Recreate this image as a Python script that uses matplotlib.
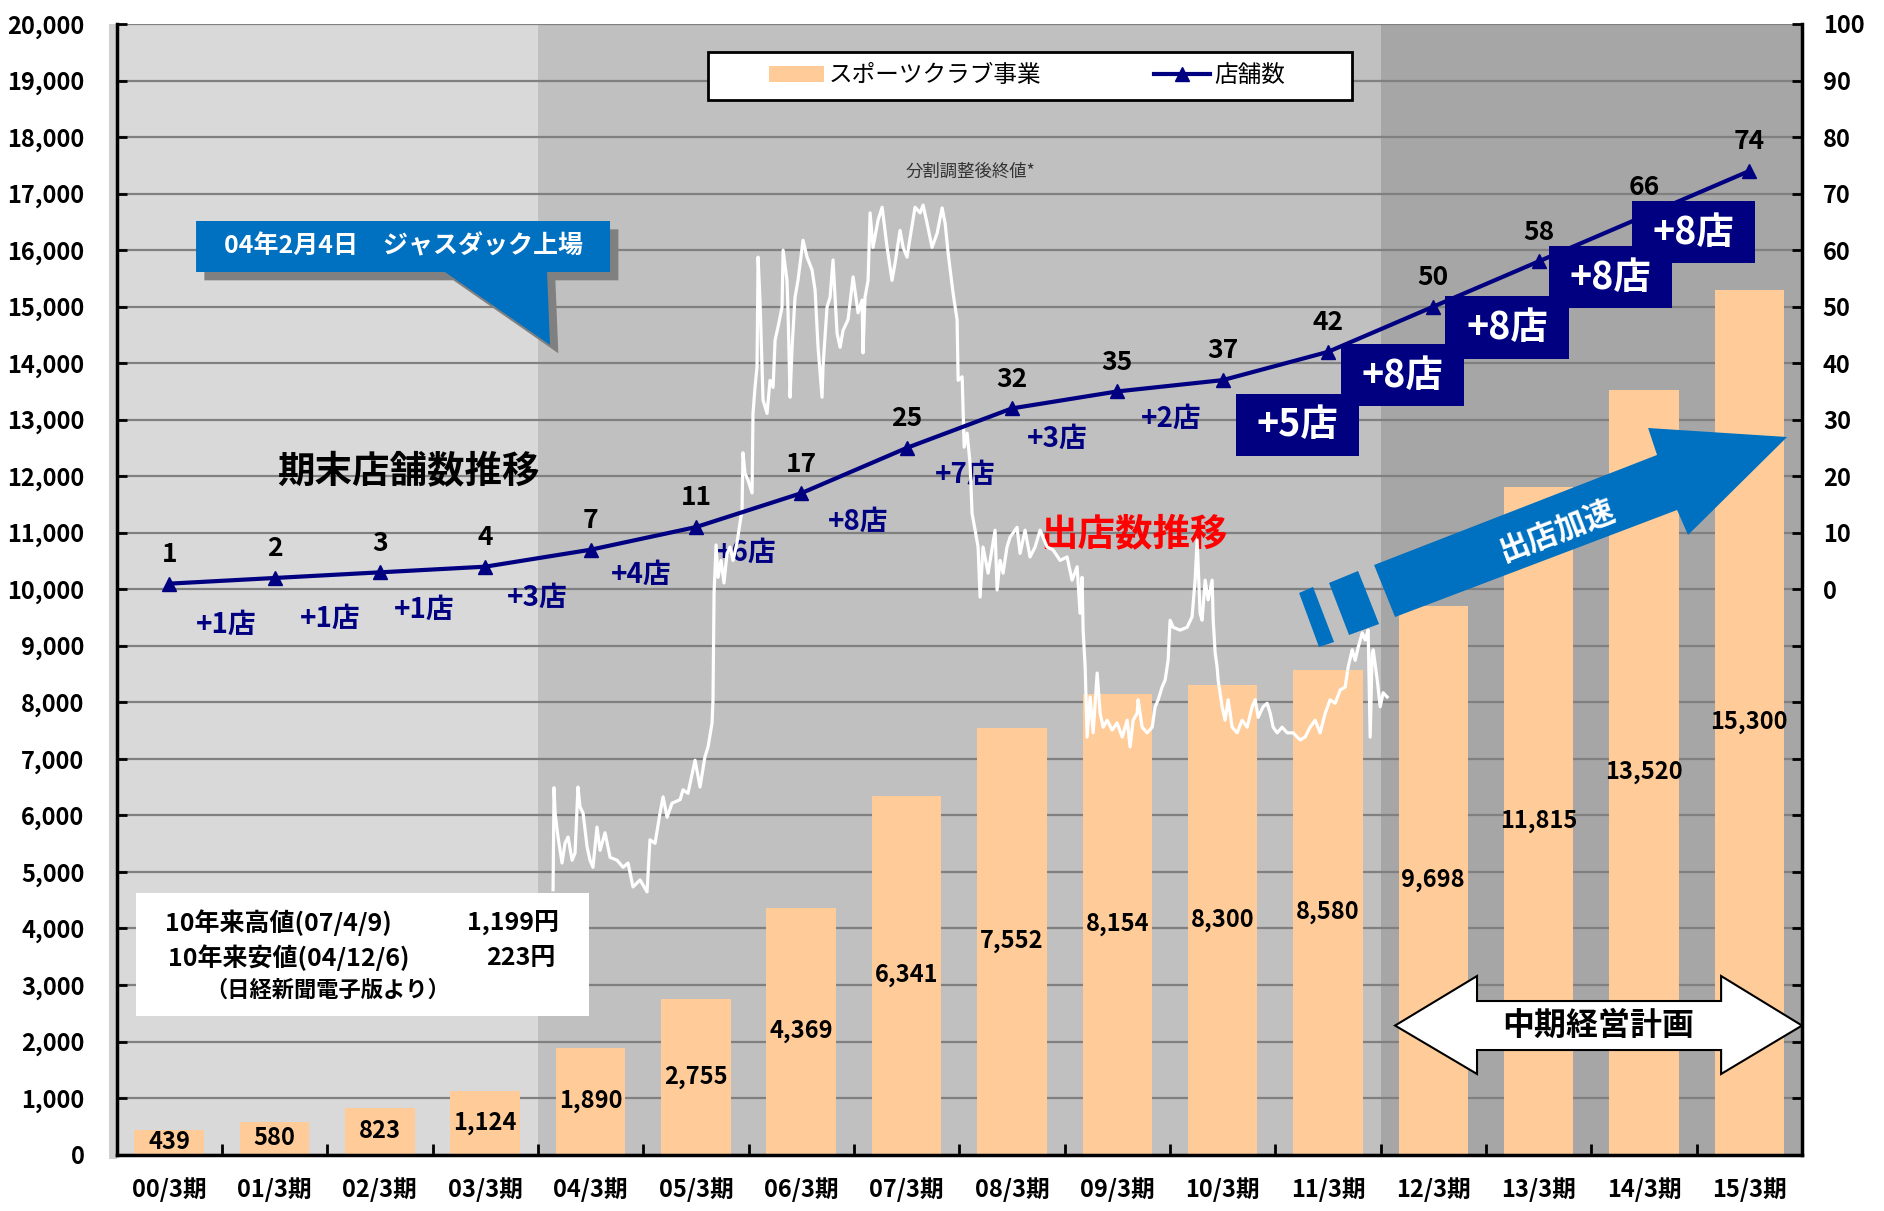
import numpy as np
import matplotlib.pyplot as plt
import matplotlib.transforms as mtransforms
from matplotlib.patches import Polygon, Rectangle

plt.rcParams['font.family'] = ['Noto Sans CJK JP', 'DejaVu Sans']

periods = ['00/3期', '01/3期', '02/3期', '03/3期', '04/3期', '05/3期', '06/3期', '07/3期',
           '08/3期', '09/3期', '10/3期', '11/3期', '12/3期', '13/3期', '14/3期', '15/3期']
sales = [439, 580, 823, 1124, 1890, 2755, 4369, 6341, 7552, 8154, 8300, 8580, 9698, 11815, 13520, 15300]
stores = [1, 2, 3, 4, 7, 11, 17, 25, 32, 35, 37, 42, 50, 58, 66, 74]

# split adjusted closing price (yen)
price_date = [
    2004.113, 2004.121, 2004.130, 2004.155, 2004.189, 2004.214, 2004.240, 2004.274, 2004.299, 2004.324,
    2004.341, 2004.367, 2004.401, 2004.426, 2004.451, 2004.485, 2004.511, 2004.553, 2004.596, 2004.655,
    2004.706, 2004.748, 2004.790, 2004.850, 2004.909, 2004.934, 2004.977, 2005.019, 2005.045, 2005.079,
    2005.121, 2005.189, 2005.214, 2005.256, 2005.316, 2005.358, 2005.400, 2005.426, 2005.460, 2005.468,
    2005.477,
    2005.494, 2005.511, 2005.536, 2005.561, 2005.587, 2005.612, 2005.638, 2005.671, 2005.697, 2005.714,
    2005.722, 2005.739, 2005.765, 2005.799, 2005.807, 2005.824, 2005.841, 2005.850, 2005.867, 2005.884,
    2005.892, 2005.926, 2005.951, 2005.977, 2005.994, 2006.019, 2006.053, 2006.062, 2006.095, 2006.104,
    2006.121, 2006.138, 2006.163, 2006.188, 2006.231, 2006.265, 2006.307, 2006.333, 2006.358, 2006.392,
    2006.400, 2006.434, 2006.460, 2006.485, 2006.519, 2006.545, 2006.570, 2006.612, 2006.655, 2006.697,
    2006.731, 2006.739, 2006.756, 2006.782, 2006.799, 2006.824, 2006.867, 2006.901, 2006.943, 2006.985,
    2007.011, 2007.053, 2007.079, 2007.112, 2007.138, 2007.180, 2007.223, 2007.248, 2007.282, 2007.324,
    2007.367, 2007.409, 2007.435, 2007.460, 2007.502, 2007.536, 2007.545, 2007.579, 2007.587, 2007.596,
    2007.621, 2007.646, 2007.663, 2007.689, 2007.714, 2007.731, 2007.756, 2007.799, 2007.858, 2007.875,
    2007.900, 2007.926, 2007.959, 2007.985, 2008.044, 2008.070, 2008.112, 2008.154, 2008.197, 2008.239,
    2008.299, 2008.349, 2008.409, 2008.468, 2008.510, 2008.553, 2008.578, 2008.595, 2008.604, 2008.621,
    2008.638, 2008.663, 2008.689, 2008.723, 2008.748, 2008.774, 2008.808, 2008.850, 2008.892, 2008.935,
    2008.977, 2009.002, 2009.028, 2009.062, 2009.070, 2009.104, 2009.146, 2009.189, 2009.214, 2009.240,
    2009.273, 2009.299, 2009.324, 2009.341, 2009.367, 2009.426, 2009.485, 2009.527, 2009.553, 2009.570,
    2009.578, 2009.595, 2009.612, 2009.638, 2009.663, 2009.697, 2009.706, 2009.723, 2009.739, 2009.748,
    2009.782, 2009.807, 2009.833, 2009.867, 2009.909, 2009.951, 2009.994, 2010.036, 2010.062, 2010.087,
    2010.129, 2010.163, 2010.189, 2010.214, 2010.248, 2010.290, 2010.333, 2010.383, 2010.443, 2010.485,
    2010.527, 2010.570, 2010.612, 2010.655, 2010.697, 2010.740, 2010.782, 2010.824, 2010.850, 2010.884,
    2010.909, 2010.935, 2010.969, 2010.994, 2011.019, 2011.036, 2011.053, 2011.062, 2011.096, 2011.121,
    2011.146, 2011.180,
]
price_yen = [
    226, 371, 335, 301, 264, 292, 301, 268, 278, 372,
    344, 335, 287, 268, 258, 315, 282, 307, 272, 268,
    258, 264, 230, 240, 223, 297, 292, 335, 358, 329,
    349, 354, 368, 363, 410, 372, 415, 429, 463, 496,
    648,
    716, 670, 694, 662, 704, 713, 694, 719, 747, 766,
    847, 818, 808, 790, 903, 940, 969, 1125, 1060, 969,
    922, 903, 950, 940, 1007, 1026, 1054, 1135, 1092, 1046,
    926, 997, 1068, 1092, 1149, 1125, 1107, 1078, 997, 926,
    969, 1054, 1068, 1121, 1017, 997, 1021, 1036, 1097, 1046,
    1064, 989, 1068, 1092, 1188, 1139, 1178, 1196, 1139, 1092,
    1117, 1163, 1139, 1125, 1153, 1196, 1188, 1199, 1173, 1139,
    1159, 1195, 1173, 1131, 1074, 1036, 950, 955, 908, 855,
    875, 832, 761, 737, 713, 642, 713, 676, 737, 652,
    694, 676, 713, 727, 741, 704, 737, 699, 713, 737,
    713, 709, 694, 699, 666, 685, 619, 670, 595, 543,
    443, 500, 449, 534, 477, 457, 467, 453, 463, 443,
    467, 429, 467, 477, 496, 457, 449, 457, 486, 496,
    514, 524, 552, 609, 599, 595, 599, 614, 666, 723,
    690, 619, 609, 666, 638, 666, 609, 562, 543, 524,
    486, 467, 496, 457, 449, 467, 457, 486, 496, 471,
    486, 491, 477, 457, 449, 457, 449, 449, 439, 443,
    457, 467, 449, 477, 496, 491, 510, 514, 543, 567,
    552, 571, 591, 581, 595, 443, 562, 567, 524, 486,
    506, 500,
]

# where the "+N店" notes sit (category, store axis)
add_label_pos = [(0.54, -6.4), (1.53, -5.3), (2.42, -3.6), (3.49, -1.5), (4.48, 2.5),
                 (5.48, 6.4), (6.54, 11.9), (7.56, 20.2), (8.43, 26.5), (9.51, 30.1)]
add_box_pos = [(10.71, 29.1), (11.71, 37.9), (12.70, 46.3), (13.68, 55.2), (14.47, 63.2)]

NAVY = '#000080'
BLUE = '#0070c0'

fig = plt.figure(figsize=(18.84, 12.11), dpi=100)
ax = fig.add_axes([0.06184, 0.04657, 0.89464, 0.93362])
x = np.arange(len(periods))
ax.set_xlim(-0.5, 15.5)
ax.set_ylim(0, 20000)

# background bands
ax.axvspan(-0.5, 3.5, color='#d9d9d9', lw=0, zorder=0.1)
ax.axvspan(3.5, 11.5, color='#c0c0c0', lw=0, zorder=0.1)
ax.axvspan(11.5, 15.5, color='#a6a6a6', lw=0, zorder=0.1)
ax.add_patch(Rectangle((-0.0045, -0.004), 0.0045, 1.004, transform=ax.transAxes,
                       color='#d0d0d0', lw=0, clip_on=False, zorder=0))
ax.set_axisbelow(True)
ax.yaxis.grid(True, color='#808080', lw=1.6)

bars = ax.bar(x, sales, width=0.66, color='#ffcc99', zorder=2, label='スポーツクラブ事業')
for xi, v in zip(x, sales):
    ax.text(xi, v / 2, f'{v:,}', ha='center', va='center', fontsize=17, fontweight='bold', zorder=3)

ax.set_yticks(range(0, 20001, 1000))
ax.set_yticklabels([f'{v:,}' for v in range(0, 20001, 1000)], fontsize=17, fontweight='bold')
ax.tick_params(axis='y', direction='in', length=7, width=2, pad=23)
ax.set_xticks(x)
ax.set_xticklabels(periods, fontsize=17, fontweight='bold')
ax.tick_params(axis='x', which='major', length=0, pad=16)
ax.set_xticks(np.arange(-0.5, 16, 1), minor=True)
ax.tick_params(axis='x', which='minor', direction='in', length=8, width=2)
for s in ['top', 'right']:
    ax.spines[s].set_visible(False)
for s in ['left', 'bottom']:
    ax.spines[s].set_linewidth(2.5)

# texts that sit under the price line
ax.text(2.27, 12075, '期末店舗数推移', ha='center', va='center', fontsize=27, fontweight='bold', zorder=4)
ax.text(9.16, 10961, '出店数推移', ha='center', va='center', fontsize=27, fontweight='bold',
        color='red', zorder=4)
ax.text(7.61, 17382, '分割調整後終値*', ha='center', va='center', fontsize=12.5, color='#333333', zorder=4)

ax.add_patch(Rectangle((-0.315, 2452), 4.301, 2176, facecolor='white', lw=0, zorder=4))
ax.text(-0.04, 4097, '10年来高値(07/4/9)', ha='left', va='center', fontsize=18, fontweight='bold', zorder=5)
ax.text(3.70, 4097, '1,199円', ha='right', va='center', fontsize=18, fontweight='bold', zorder=5)
ax.text(-0.01, 3478, '10年来安値(04/12/6)', ha='left', va='center', fontsize=18, fontweight='bold', zorder=5)
ax.text(3.67, 3478, '223円', ha='right', va='center', fontsize=18, fontweight='bold', zorder=5)
ax.text(1.50, 2912, '（日経新聞電子版より）', ha='center', va='center', fontsize=16, fontweight='bold', zorder=5)

# stock price on its own hidden axes
ax3 = fig.add_axes(ax.get_position().bounds, frameon=False)
ax3.set_axis_off()
ax3.plot(price_date, price_yen, color='white', lw=2.3)
ax3.set_xlim(2000.414, 2014.695)
ax3.set_ylim(-150.4, 1456.4)

# store count on the right axis
ax2 = ax.twinx()
ax2.set_ylim(-100, 100)
line, = ax2.plot(x, stores, color=NAVY, lw=3, marker='^', ms=10, zorder=3, label='店舗数')
for xi, s in zip(x, stores):
    ax2.annotate(str(s), (xi, s), xytext=(0, 21), textcoords='offset points', ha='center',
                 va='center', fontsize=19, fontweight='bold')
ax2.set_yticks(range(-100, 101, 10))
ax2.set_yticklabels([str(v) if v >= 0 else '' for v in range(-100, 101, 10)],
                    fontsize=17, fontweight='bold')
ax2.tick_params(axis='y', direction='in', length=7, width=2, pad=15)
for s in ['top', 'left', 'bottom']:
    ax2.spines[s].set_visible(False)
ax2.spines['right'].set_linewidth(2.5)

adds = np.diff(stores)
for (cx, cy), n in zip(add_label_pos, adds[:len(add_label_pos)]):
    ax.text(cx, cy, f'+{n}店', transform=ax2.transData, ha='center', va='center', fontsize=20,
            fontweight='bold', color=NAVY, zorder=4)
for (cx, cy), n in zip(add_box_pos, adds[len(add_label_pos):]):
    ax2.add_patch(Rectangle((cx - 0.585, cy - 5.5), 1.17, 11, facecolor=NAVY, lw=0, zorder=5))
    ax2.text(cx, cy, f'+{n}店', ha='center', va='center', fontsize=27, fontweight='bold',
             color='white', zorder=6)

# listing callout
callout = [(0.255, 16515), (4.185, 16515), (4.185, 15613), (3.587, 15613), (3.615, 14322),
           (2.618, 15613), (0.255, 15613)]
shadow_tr = mtransforms.offset_copy(ax.transData, fig=fig, x=6, y=-6, units='points')
ax2.add_patch(Polygon(callout, closed=True, facecolor='#808080', lw=0, transform=shadow_tr,
                      clip_on=False, zorder=7))
ax2.add_patch(Polygon(callout, closed=True, facecolor=BLUE, lw=0, transform=ax.transData,
                      clip_on=False, zorder=7.1))
ax2.text(2.22, 16064, '04年2月4日　ジャスダック上場', transform=ax.transData, ha='center', va='center',
         fontsize=18, fontweight='bold', color='white', zorder=7.2)

# acceleration arrow
for piece in ([(10.726, 9935), (10.858, 10041), (11.058, 9068), (10.915, 8979)],
              [(11.010, 10112), (11.286, 10324), (11.485, 9386), (11.200, 9192)],
              [(11.438, 10430), (14.124, 12376), (14.039, 12853), (15.358, 12694),
               (14.418, 10961), (14.314, 11403), (11.637, 9510)]):
    ax2.add_patch(Polygon(piece, closed=True, facecolor=BLUE, lw=0, transform=ax.transData,
                          clip_on=False, zorder=7))
ax2.text(13.175, 11049, '出店加速', transform=ax.transData, rotation=21, rotation_mode='anchor',
         ha='center', va='center', fontsize=22, fontweight='bold', color='white', zorder=7.2)

# mid-term plan double arrow
plan = [(11.637, 2283), (12.415, 3159), (12.415, 2717), (14.732, 2717), (14.732, 3159), (15.5, 2283),
        (14.732, 1426), (14.732, 1850), (12.415, 1850), (12.415, 1426)]
ax2.add_patch(Polygon(plan, closed=True, facecolor='white', edgecolor='black', lw=1.5,
                      transform=ax.transData, clip_on=False, zorder=7))
ax2.text(13.57, 2283, '中期経営計画', transform=ax.transData, ha='center', va='center', fontsize=23,
         fontweight='bold', zorder=7.2)

# legend with its own frame
ax2.add_patch(Rectangle((0.351, 0.9328), 0.3821, 0.0424, transform=ax2.transAxes, facecolor='white',
                        edgecolor='black', lw=2, clip_on=False, zorder=8))
leg = ax2.legend([bars, line], ['スポーツクラブ事業', '店舗数'], loc='center left',
                 bbox_to_anchor=(0.387, 0.954), ncol=2, frameon=False, fontsize=17,
                 handlelength=2.33, handletextpad=0.2, columnspacing=4.8, borderpad=0,
                 borderaxespad=0)
leg.set_zorder(9)

fig.savefig('out.png', dpi=100)
